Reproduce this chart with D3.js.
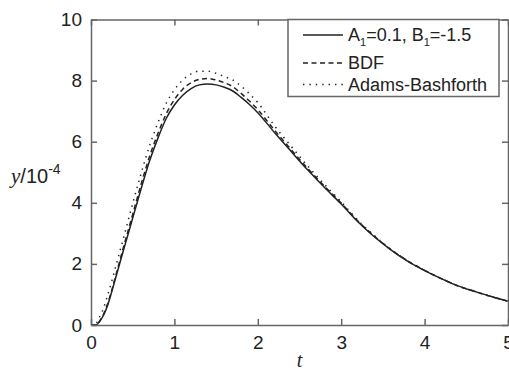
<!DOCTYPE html>
<html><head><meta charset="utf-8">
<script src="https://cdn.jsdelivr.net/npm/d3@7"></script>
<style>
html,body{margin:0;padding:0;background:#fff;overflow:hidden;}
svg{display:block;}
</style></head>
<body>
<script>
// ---- data (y in units of 1e-4) ----
const tSolid   = [0,0.06,0.1,0.15,0.2,0.25,0.3,0.4,0.5,0.6,0.7,0.8,0.9,1.0,1.1,1.2,1.3,1.4,1.5,1.6,1.7,1.8,1.9,2.0,2.2,2.4,2.6,2.8,3.0,3.2,3.4,3.6,3.8,4.0,4.2,4.4,4.6,4.8,5.0];
const ySolid   = [0,0,0.1,0.32,0.65,1.1,1.59,2.55,3.5,4.45,5.35,6.1,6.75,7.2,7.52,7.74,7.86,7.89,7.86,7.78,7.66,7.45,7.22,6.95,6.3,5.68,5.07,4.5,3.96,3.38,2.88,2.45,2.08,1.78,1.52,1.28,1.1,0.93,0.78];
const tBDF     = [0,0.06,0.1,0.15,0.2,0.25,0.3,0.4,0.5,0.6,0.7,0.8,0.9,1.0,1.1,1.2,1.3,1.4,1.5,1.6,1.7,1.8,1.9,2.0,2.2,2.4,2.6,2.8,3.0,3.2,3.4,3.6,3.8,4.0,4.2,4.4,4.6,4.8,5.0];
const yBDF     = [0,0,0.12,0.35,0.7,1.15,1.65,2.65,3.62,4.6,5.5,6.25,6.9,7.38,7.72,7.93,8.04,8.07,8.02,7.93,7.8,7.58,7.33,7.05,6.38,5.74,5.12,4.54,3.99,3.4,2.9,2.46,2.09,1.79,1.52,1.28,1.1,0.93,0.78];
const tAB      = [0,0.04,0.1,0.15,0.2,0.25,0.3,0.4,0.5,0.6,0.7,0.8,0.9,1.0,1.1,1.2,1.3,1.4,1.5,1.6,1.7,1.8,1.9,2.0,2.2,2.4,2.6,2.8,3.0,3.2,3.4,3.6,3.8,4.0,4.2,4.4,4.6,4.8,5.0];
const yAB      = [0,0,0.25,0.55,0.98,1.45,1.95,2.95,3.98,4.95,5.85,6.6,7.25,7.7,8.02,8.22,8.31,8.31,8.24,8.13,8.02,7.82,7.57,7.28,6.52,5.85,5.2,4.6,4.03,3.43,2.92,2.47,2.09,1.79,1.52,1.28,1.1,0.93,0.78];
const xTicks = [0,1,2,3,4,5];
const yTicks = [0,2,4,6,8,10];
const legendLabels = ["A1=0.1, B1=-1.5","BDF","Adams-Bashforth"];

const W = 509, H = 369;
const m = {left:91, right:508, top:19.5, bottom:325};
const svg = d3.select("body").append("svg").attr("width",W).attr("height",H);

const x = d3.scaleLinear().domain([0,5]).range([m.left,m.right]);
const y = d3.scaleLinear().domain([0,10]).range([m.bottom,m.top]);

const axisColor = "#666";
const font = "'Liberation Sans', Arial, sans-serif";

// curves
const line = d3.line().x(d=>x(d[0])).y(d=>y(d[1])).curve(d3.curveMonotoneX);
const series = [
  {t:tSolid, v:ySolid, dash:null},
  {t:tBDF, v:yBDF, dash:"5,3.5"},
  {t:tAB, v:yAB, dash:"1.4,5"}
];
series.forEach(s=>{
  svg.append("path").datum(s.t.map((t,i)=>[t,s.v[i]]))
    .attr("d",line).attr("fill","none").attr("stroke","#222")
    .attr("stroke-width",1.5).attr("stroke-dasharray",s.dash);
});

// axes (box with inward ticks)
const tl = 6;
const gB = svg.append("g").attr("transform",`translate(0,${m.bottom})`)
  .call(d3.axisBottom(x).tickValues(xTicks).tickSizeInner(-tl).tickSizeOuter(0).tickPadding(7).tickFormat(d3.format("d")));
const gT = svg.append("g").attr("transform",`translate(0,${m.top})`)
  .call(d3.axisTop(x).tickValues(xTicks).tickSizeInner(-tl).tickSizeOuter(0).tickFormat(""));
const gL = svg.append("g").attr("transform",`translate(${m.left},0)`)
  .call(d3.axisLeft(y).tickValues(yTicks).tickSizeInner(-tl).tickSizeOuter(0).tickPadding(9).tickFormat(d3.format("d")));
const gR = svg.append("g").attr("transform",`translate(${m.right},0)`)
  .call(d3.axisRight(y).tickValues(yTicks).tickSizeInner(-tl).tickSizeOuter(0).tickFormat(""));
[gB,gT,gL,gR].forEach(g=>{
  g.selectAll(".domain,line").attr("stroke",axisColor).attr("stroke-width",1.5);
  g.selectAll("text").attr("fill","#222").style("font-family",font).style("font-size","19px");
});
gB.selectAll("text").attr("dy","0.9em");

// legend
const lg = svg.append("g");
lg.append("rect").attr("x",288).attr("y",m.top).attr("width",211).attr("height",77)
  .attr("fill","#fff").attr("stroke",axisColor).attr("stroke-width",1.5);
const rows = [35, 63, 84.5];
series.forEach((s,i)=>{
  lg.append("line").attr("x1",303).attr("x2",343).attr("y1",rows[i]).attr("y2",rows[i])
    .attr("stroke","#222").attr("stroke-width",1.5).attr("stroke-dasharray",s.dash);
});
const t0 = lg.append("text").attr("x",348).attr("y",rows[0]).attr("dy","0.35em")
  .style("font-family",font).style("font-size","18px").attr("fill","#222");
t0.append("tspan").text("A");
t0.append("tspan").attr("dy",5).style("font-size","11px").text("1");
t0.append("tspan").attr("dy",-5).text("=0.1, B");
t0.append("tspan").attr("dy",5).style("font-size","11px").text("1");
t0.append("tspan").attr("dy",-5).text("=-1.5");
[1,2].forEach(i=>{
  lg.append("text").attr("x",348).attr("y",rows[i]).attr("dy","0.35em")
    .style("font-family",font).style("font-size","18px").attr("fill","#222").text(legendLabels[i]);
});

// y label
const yl = svg.append("text").attr("x",11).attr("y",183).attr("fill","#222")
  .style("font-family",font).style("font-size","20px");
yl.append("tspan").style("font-family","'Liberation Serif','Times New Roman',serif").style("font-style","italic").style("font-size","21px").text("y");
yl.append("tspan").text("/10");
yl.append("tspan").attr("dy",-9).style("font-size","14px").text("-4");

// x label
svg.append("text").attr("x",x(2.5)).attr("y",367).attr("text-anchor","middle").attr("fill","#222")
  .style("font-family","'Liberation Serif','Times New Roman',serif").style("font-style","italic").style("font-size","20px").text("t");
</script>
</body></html>
